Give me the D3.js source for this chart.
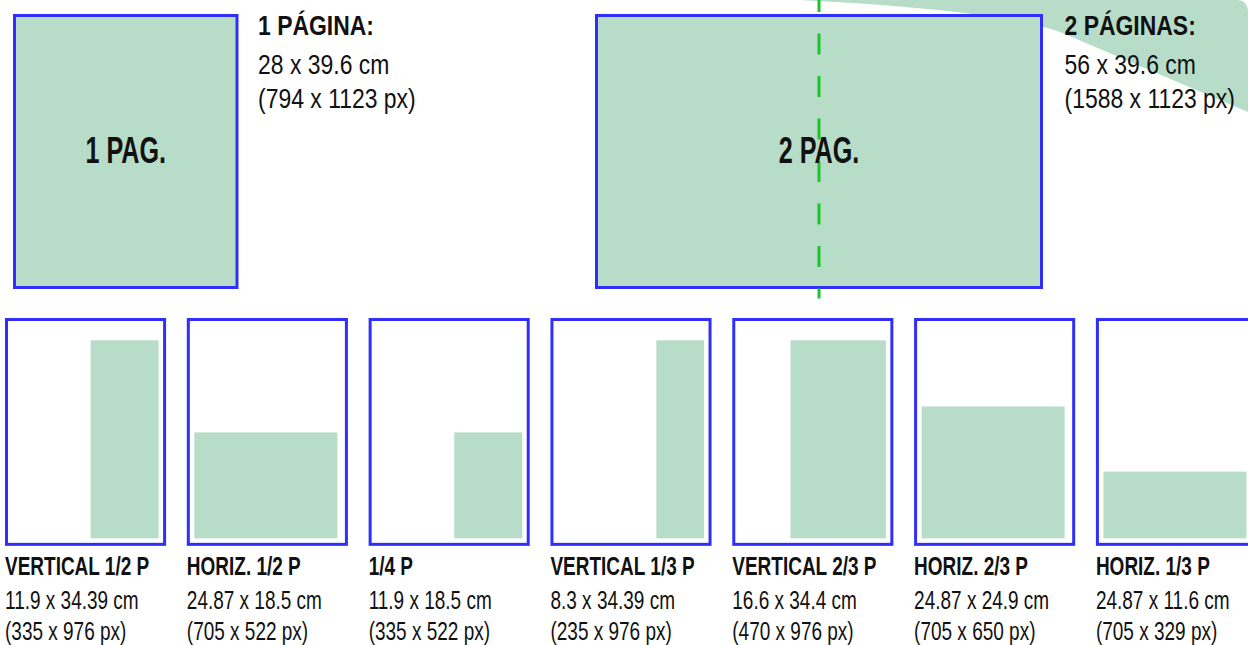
<!DOCTYPE html>
<html lang="es">
<head>
<meta charset="UTF-8">
<title>Formatos</title>
<script src="https://cdn.jsdelivr.net/npm/d3@7"></script>
<style>
  body { margin: 0; background: #fff; }
  svg { display: block; }
  text { font-family: 'Liberation Sans', Arial, sans-serif; fill: #111; }
  .bold { font-weight: bold; }
</style>
</head>
<body>
<script>
// full page formats
const pageNames = ["1 PÁGINA:", "2 PÁGINAS:"];
const pageShort = ["1 PAG.", "2 PAG."];
const pageCm = ["28 x 39.6 cm", "56 x 39.6 cm"];
const pageW = [794, 1588];
const pageH = [1123, 1123];

// partial page formats
const adNames = ["VERTICAL 1/2 P", "HORIZ. 1/2 P", "1/4 P", "VERTICAL 1/3 P", "VERTICAL 2/3 P", "HORIZ. 2/3 P", "HORIZ. 1/3 P"];
const adCm = ["11.9 x 34.39 cm", "24.87 x 18.5 cm", "11.9 x 18.5 cm", "8.3 x 34.39 cm", "16.6 x 34.4 cm", "24.87 x 24.9 cm", "24.87 x 11.6 cm"];
const adW = [335, 705, 335, 235, 470, 705, 705];
const adH = [976, 522, 522, 976, 976, 650, 329];
const adSide = ["right", "left", "right", "right", "right", "left", "left"];

const W = 1248, H = 645;
const green = "#b7dcc8", blue = "#2f2ff7";

const svg = d3.select("body").append("svg")
  .attr("width", W).attr("height", H);

// condensed text: squeeze a normal font horizontally
function label(g, x, y, size, squeeze, bold, txt) {
  g.append("text")
    .attr("class", bold ? "bold" : null)
    .attr("transform", d => `translate(${typeof x === "function" ? x(d) : x},${y}) scale(${squeeze},1)`)
    .attr("font-size", size)
    .text(txt);
}

// decorative swoosh top right
svg.append("path")
  .attr("d", "M800,0 Q1000,10 1060,32 L1248,112 L1248,10 Q1246,0 1238,0 Z")
  .attr("fill", green);

// ---- top row: full pages ----
const topX = d3.scaleLinear().domain([0, 1588]).range([0, 445]);
const topY = d3.scaleLinear().domain([0, 1123]).range([0, 272]);
const topLeft = [14.5, 596.5];
const topTop = 15.5;

const full = svg.append("g").selectAll("g")
  .data(pageNames.map((n, i) => ({ i, n })))
  .join("g")
  .attr("transform", d => `translate(${topLeft[d.i]},${topTop})`);

full.append("rect")
  .attr("width", d => topX(pageW[d.i]))
  .attr("height", d => topY(pageH[d.i]))
  .attr("fill", green)
  .attr("stroke", blue)
  .attr("stroke-width", 3);

// fold line on the spread
full.filter(d => d.i === 1).append("line")
  .attr("x1", topX(pageW[1]) / 2).attr("x2", topX(pageW[1]) / 2)
  .attr("y1", -topTop - 9).attr("y2", topY(pageH[1]) + 11)
  .attr("stroke", "#1fc42b").attr("stroke-width", 3)
  .attr("stroke-dasharray", "21,21.5");

full.append("text")
  .attr("class", "bold")
  .attr("transform", d => `translate(${topX(pageW[d.i]) / 2},${topY(pageH[d.i]) / 2 + 11}) scale(0.68,1)`)
  .attr("text-anchor", "middle")
  .attr("font-size", 37)
  .text(d => pageShort[d.i]);

const fx = d => topX(pageW[d.i]) + (d.i ? 23 : 21);
label(full, fx, 19, 27, 0.85, true, d => d.n);
label(full, fx, 58, 27, 0.85, false, d => pageCm[d.i]);
label(full, fx, 92, 27, 0.85, false, d => `(${pageW[d.i]} x ${pageH[d.i]} px)`);

// ---- bottom row: ad formats on a single page ----
const band = d3.scaleBand().domain(adNames).range([5, 1257]).paddingInner(0.114);
const s = band.bandwidth() / pageW[0];
const boxH = pageH[0] * s;
const boxTop = 318;
const margin = 37;

const ad = svg.append("g").selectAll("g")
  .data(adNames.map((n, i) => ({ i, n })))
  .join("g")
  .attr("transform", d => `translate(${band(d.n)},${boxTop})`);

ad.append("rect")
  .attr("x", 1.5).attr("y", 1.5)
  .attr("width", band.bandwidth() - 3)
  .attr("height", boxH - 3)
  .attr("fill", "#fff")
  .attr("stroke", blue)
  .attr("stroke-width", 3);

ad.append("rect")
  .attr("x", d => adSide[d.i] === "left" ? margin * s : (pageW[0] - margin - adW[d.i]) * s)
  .attr("y", d => (pageH[0] - margin - adH[d.i]) * s)
  .attr("width", d => adW[d.i] * s)
  .attr("height", d => adH[d.i] * s)
  .attr("fill", green);

label(ad, 0, 257, 25, 0.76, true, d => d.n);
label(ad, 0, 291, 25, 0.76, false, d => adCm[d.i]);
label(ad, 0, 322, 25, 0.76, false, d => `(${adW[d.i]} x ${adH[d.i]} px)`);
</script>
</body>
</html>
